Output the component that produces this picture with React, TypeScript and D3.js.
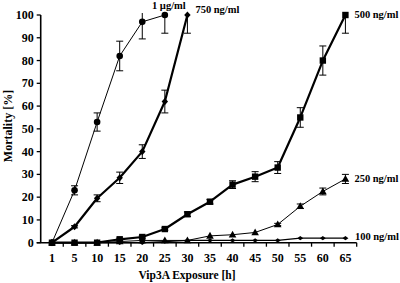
import React from "react";
import * as d3 from "d3";

const categories = ["1", "5", "10", "15", "20", "25", "30", "35", "40", "45", "50", "55", "60", "65"];
const yTicks = [0, 10, 20, 30, 40, 50, 60, 70, 80, 90, 100];

const mort1ug = [0, 23, 53, 82, 97, 100];
const err1ug = [0, 2, 4, 6.5, 7.5, 8];
const mort750 = [0, 7, 19.5, 28.5, 40, 62, 100];
const err750 = [0, 0.5, 1.5, 2.5, 3, 5, 8];
const mort500 = [0, 0, 0, 1.5, 2.5, 6, 12.5, 18, 25.5, 29, 33, 55, 80, 100];
const err500 = [0, 0, 0, 0.5, 0.5, 0.5, 1, 1, 1.7, 2.2, 2.6, 4.3, 6.4, 8];
const mort250 = [0, 0, 0, 0.5, 1, 1, 1, 3, 3.5, 4.5, 8, 16, 22.5, 28];
const err250 = [0, 0, 0, 0, 0, 0, 0, 0, 0, 0, 0.5, 1, 1.5, 2];
const mort100 = [0, 0, 0, 0, 0, 0.5, 1, 1, 1, 1, 1, 2, 2, 2];
const err100 = [0, 0, 0, 0, 0, 0, 0, 0, 0, 0, 0, 0, 0, 0];

type Series = {
  name: string;
  values: number[];
  errors: number[];
  width: number;
  marker: "circle" | "diamond" | "square" | "triangle" | "smalldiamond";
  labelDx: number;
  labelDy: number;
  anchor: "start" | "middle";
};

const series: Series[] = [
  { name: "100 ng/ml", values: mort100, errors: err100, width: 1.2, marker: "smalldiamond", labelDx: 9.5, labelDy: 1.5, anchor: "start" },
  { name: "250 ng/ml", values: mort250, errors: err250, width: 1, marker: "triangle", labelDx: 9, labelDy: 3, anchor: "start" },
  { name: "500 ng/ml", values: mort500, errors: err500, width: 2.2, marker: "square", labelDx: 9, labelDy: 3, anchor: "start" },
  { name: "750 ng/ml", values: mort750, errors: err750, width: 2.2, marker: "diamond", labelDx: 8, labelDy: -2, anchor: "start" },
  { name: "1 µg/ml", values: mort1ug, errors: err1ug, width: 1, marker: "circle", labelDx: 4, labelDy: -6, anchor: "middle" },
];

const W = 400;
const H = 283;
const left = 40.7;
const right = 356.7;
const top = 15;
const bottom = 242.7;
const FONT = "'Liberation Serif', 'Times New Roman', serif";

export default function App() {
  const x = d3.scaleBand<string>().domain(categories).range([left, right]).paddingInner(0).paddingOuter(0);
  const y = d3.scaleLinear().domain([0, 100]).range([bottom, top]);
  const cx = (i: number) => (x(categories[i]) as number) + x.bandwidth() / 2;
  const line = d3
    .line<number>()
    .x((_, i) => cx(i))
    .y((v) => y(v));

  const marker = (kind: Series["marker"], px: number, py: number, key: string) => {
    switch (kind) {
      case "circle":
        return <circle key={key} cx={px} cy={py} r={3.3} fill="#000" />;
      case "square":
        return <rect key={key} x={px - 3.2} y={py - 3.2} width={6.4} height={6.4} fill="#000" />;
      case "diamond":
        return <path key={key} d={`M${px},${py - 3.6}L${px + 3.2},${py}L${px},${py + 3.6}L${px - 3.2},${py}Z`} fill="#000" />;
      case "triangle":
        return <path key={key} d={`M${px},${py - 4}L${px + 3.8},${py + 2.8}L${px - 3.8},${py + 2.8}Z`} fill="#000" />;
      case "smalldiamond":
        return <path key={key} d={`M${px},${py - 2.2}L${px + 3},${py}L${px},${py + 2.2}L${px - 3},${py}Z`} fill="#000" />;
    }
  };

  return (
    <svg width={W} height={H} style={{ position: "absolute", left: 0, top: 0, background: "#fff" }}>
      <defs>
        <clipPath id="plotclip">
          <rect x={0} y={13} width={W} height={H - 13} />
        </clipPath>
      </defs>
      <rect width={W} height={H} fill="#fff" />

      {/* Y axis */}
      <line x1={left} x2={left} y1={top} y2={bottom} stroke="#000" strokeWidth={1.6} />
      {yTicks.map((t) => (
        <g key={"yt" + t}>
          <line x1={left - 4} x2={left} y1={y(t)} y2={y(t)} stroke="#000" strokeWidth={1.3} />
          <text x={left - 7} y={y(t) + 4} textAnchor="end" fontFamily={FONT} fontWeight="bold" fontSize={12}>
            {t}
          </text>
        </g>
      ))}

      {/* X axis */}
      <line x1={left - 4} x2={right} y1={bottom} y2={bottom} stroke="#000" strokeWidth={1.6} />
      {categories.map((c, i) => (
        <g key={"xt" + c}>
          <line x1={(x(c) as number) + x.bandwidth()} x2={(x(c) as number) + x.bandwidth()} y1={bottom} y2={bottom + 4} stroke="#000" strokeWidth={1.3} />
          <text x={cx(i)} y={262} textAnchor="middle" fontFamily={FONT} fontWeight="bold" fontSize={12}>
            {c}
          </text>
        </g>
      ))}

      {/* Axis titles */}
      <text x={187} y={279} textAnchor="middle" fontFamily={FONT} fontWeight="bold" fontSize={11.5}>
        Vip3A Exposure [h]
      </text>
      <text
        transform={`translate(11.5, ${126}) rotate(-90)`}
        textAnchor="middle"
        fontFamily={FONT}
        fontWeight="bold"
        fontSize={12}
      >
        Mortality [%]
      </text>

      {/* Series */}
      {series.map((s) => {
        const last = s.values.length - 1;
        return (
          <g key={s.name}>
            <path d={line(s.values) || ""} fill="none" stroke="#000" strokeWidth={s.width} strokeLinejoin="round" />
            <g clipPath="url(#plotclip)">
              {s.values.map((v, i) =>
                s.errors[i] > 0 ? (
                  <g key={"e" + i}>
                    <line x1={cx(i)} x2={cx(i)} y1={y(v + s.errors[i])} y2={y(v - s.errors[i])} stroke="#000" strokeWidth={1} />
                    <line x1={cx(i) - 3.5} x2={cx(i) + 3.5} y1={y(v + s.errors[i])} y2={y(v + s.errors[i])} stroke="#000" strokeWidth={1} />
                    <line x1={cx(i) - 3.5} x2={cx(i) + 3.5} y1={y(v - s.errors[i])} y2={y(v - s.errors[i])} stroke="#000" strokeWidth={1} />
                  </g>
                ) : null
              )}
            </g>
            {s.values.map((v, i) => marker(s.marker, cx(i), y(v), "m" + i))}
            <text
              x={cx(last) + s.labelDx}
              y={y(s.values[last]) + s.labelDy}
              textAnchor={s.anchor}
              fontFamily={FONT}
              fontWeight="bold"
              fontSize={10.5}
            >
              {s.name}
            </text>
          </g>
        );
      })}
    </svg>
  );
}
